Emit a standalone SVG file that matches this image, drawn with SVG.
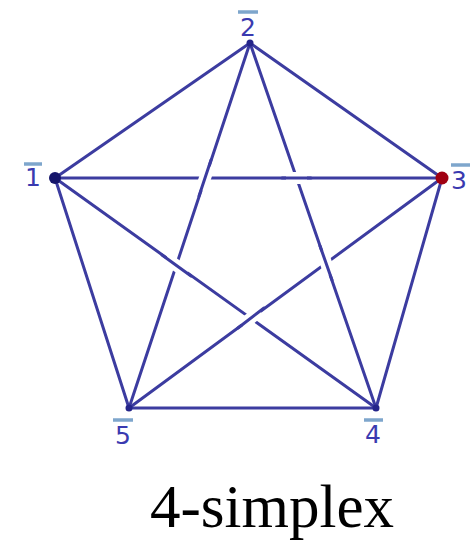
<svg xmlns="http://www.w3.org/2000/svg" width="476" height="545" viewBox="0 0 476 545">
<style>
.e{stroke:#3c3ca0;stroke-width:3;fill:none;stroke-linecap:round}
.h{stroke:#ffffff;stroke-width:12;fill:none}
.lbl{font-family:"DejaVu Sans",sans-serif;font-size:25px;fill:#3a3ab0;text-anchor:middle}
.ov{stroke:#7ea6cc;stroke-width:3.5}
</style>
<rect width="476" height="545" fill="#ffffff"/>
<g id="connectors">
<line class="e" x1="55" y1="178" x2="250" y2="43"/>
<line class="e" x1="250" y1="43" x2="442" y2="178"/>
<line class="e" x1="442" y1="178" x2="376" y2="408"/>
<line class="e" x1="376" y1="408" x2="129" y2="408"/>
<line class="e" x1="129" y1="408" x2="55" y2="178"/>
<line class="e" x1="55" y1="178" x2="442" y2="178"/>
<line class="e" x1="55" y1="178" x2="376" y2="408"/>
<line class="e" x1="250" y1="43" x2="376" y2="408"/>
<line class="e" x1="250" y1="43" x2="129" y2="408"/>
<line class="e" x1="442" y1="178" x2="129" y2="408"/>
<line class="h" x1="209" y1="166" x2="201" y2="190"/>
<line class="e" x1="211" y1="160" x2="199" y2="196"/>
<line class="h" x1="286" y1="178" x2="307" y2="178"/>
<line class="e" x1="282" y1="178" x2="311" y2="178"/>
<line class="h" x1="166" y1="258" x2="187" y2="273"/>
<line class="e" x1="162" y1="255" x2="191" y2="276"/>
<line class="h" x1="260" y1="311" x2="242" y2="325"/>
<line class="e" x1="264" y1="308" x2="238" y2="328"/>
<line class="h" x1="322" y1="251" x2="330" y2="275"/>
<line class="e" x1="320" y1="246" x2="332" y2="280"/>
</g>
<g id="n1"><circle cx="55" cy="178" r="6" fill="#15156a"/><line class="ov" x1="24" y1="164" x2="42" y2="164"/><text class="lbl" x="33" y="186">1</text></g>
<g id="n2"><circle cx="250" cy="43" r="3.5" fill="#25258a"/><line class="ov" x1="238" y1="12" x2="258" y2="12"/><text class="lbl" x="248" y="36">2</text></g>
<g id="n3"><circle cx="442" cy="178" r="6.5" fill="#a00012"/><line class="ov" x1="451" y1="165" x2="470" y2="165"/><text class="lbl" x="459" y="189">3</text></g>
<g id="n4"><circle cx="376" cy="408" r="3.5" fill="#25258a"/><line class="ov" x1="364" y1="420" x2="383" y2="420"/><text class="lbl" x="373" y="443">4</text></g>
<g id="n5"><circle cx="129" cy="408" r="3.5" fill="#25258a"/><line class="ov" x1="113" y1="420" x2="133" y2="420"/><text class="lbl" x="123" y="444">5</text></g>
<text x="272" y="527" font-family="Liberation Serif, serif" font-size="61" text-anchor="middle" fill="#000">4-simplex</text>
</svg>
